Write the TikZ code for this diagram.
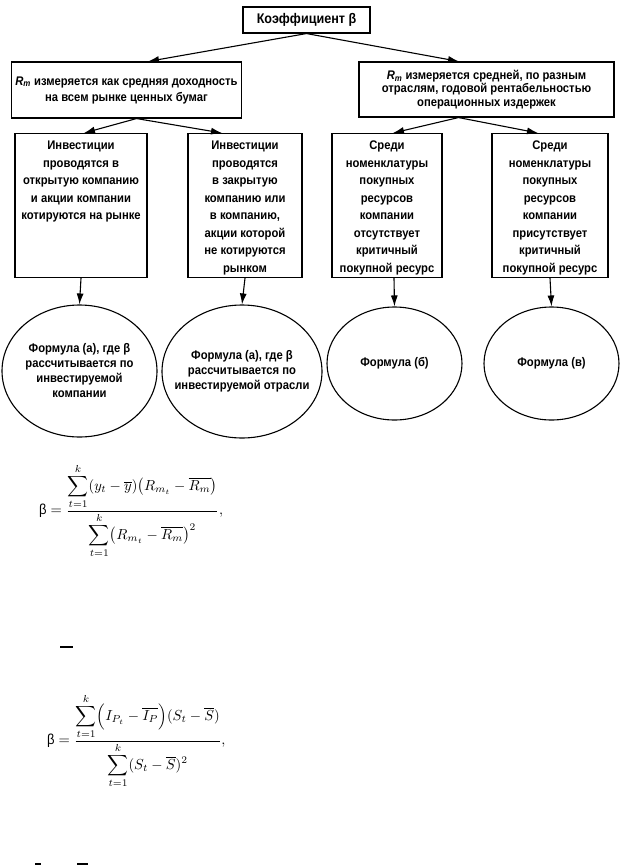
\documentclass[tikz,border=0pt]{standalone}
\usepackage{amsmath}
\usepackage{fontspec}
\newfontfamily\dgfont{Liberation Sans}[FakeStretch=0.9]
\usetikzlibrary{arrows.meta, shapes.geometric}

\newcommand{\Rm}{{\itshape R\textsubscript{m}}}
\newcommand{\topcol}[2]{\parbox[t][136pt][t]{#1}{\centering\strut #2\par}}
\newcommand{\sumk}{\displaystyle\sum_{t=1}^{k}}

\begin{document}
\begin{tikzpicture}[x=1pt, y=-1pt,
  cell/.style={draw, line width=1.1pt, inner sep=4pt,
    font=\dgfont\bfseries\fontsize{12.5}{17.5}\selectfont},
  oval/.style={draw, ellipse, line width=1.1pt, inner sep=0pt},
  ovtext/.style={align=center, font=\dgfont\bfseries\fontsize{12.5}{15}\selectfont},
  arr/.style={-{Latex[length=11pt,width=7pt]}, line width=1.1pt},
  frm/.style={anchor=west, scale=1.45}]
\useasboundingbox (0,0) rectangle (622,865);

% Top
\node[cell, font=\dgfont\bfseries\fontsize{14}{16}\selectfont,
  minimum width=127pt, minimum height=26pt] (top) at (306.5,20) {Коэффициент β};

% Second row
\node[cell, align=center, minimum width=221pt, minimum height=56pt,
  font=\dgfont\bfseries\fontsize{12.5}{16}\selectfont] (lm) at (126.5,90)
  {\Rm{} измеряется как средняя доходность\\ на всем рынке ценных бумаг};
\node[cell, align=center, minimum width=255pt, minimum height=55pt,
  font=\dgfont\bfseries\fontsize{12.5}{13.5}\selectfont] (rm) at (486.5,89.5)
  {\Rm{} измеряется средней, по разным\\ отраслям, годовой рентабельностью\\ операционных издержек};

\draw[arr] (top.south) -- ([xshift=21.5]lm.north);
\draw[arr] (top.south) -- ([xshift=-27.5]rm.north);

% Third row
\node[cell, anchor=north] (ia) at (81,133) {\topcol{124pt}{Инвестиции\\ проводятся в\\ открытую компанию\\ и акции компании\\ котируются на рынке}};
\node[cell, anchor=north] (ib) at (245,133) {\topcol{106pt}{Инвестиции\\ проводятся\\ в закрытую\\ компанию или\\ в компанию,\\ акции которой\\ не котируются\\ рынком}};
\node[cell, anchor=north] (ic) at (387,133) {\topcol{102pt}{Среди\\ номенклатуры\\ покупных\\ ресурсов\\ компании\\ отсутствует\\ критичный\\ покупной ресурс}};
\node[cell, anchor=north] (id) at (550,133) {\topcol{108pt}{Среди\\ номенклатуры\\ покупных\\ ресурсов\\ компании\\ присутствует\\ критичный\\ покупной ресурс}};

\draw[arr] ([xshift=10]lm.south) -- ([xshift=3]ia.north);
\draw[arr] ([xshift=10]lm.south) -- ([xshift=-23]ib.north);
\draw[arr] ([xshift=-28]rm.south) -- ([xshift=6]ic.north);
\draw[arr] ([xshift=-28]rm.south) -- ([xshift=-12]id.north);

% Formulas
\node[oval, minimum width=155pt, minimum height=132pt] (fa) at (79.5,371) {};
\node[ovtext] at (fa) {Формула (а), где β\\ рассчитывается по\\ инвестируемой\\ компании};
\node[oval, minimum width=160pt, minimum height=133pt] (fb) at (242,371.5) {};
\node[ovtext] at (fb) {Формула (а), где β\\ рассчитывается по\\ инвестируемой отрасли};
\node[oval, minimum width=135pt, minimum height=113pt] (fc) at (394.5,363.5) {};
\node[ovtext] at (fc) {Формула (б)};
\node[oval, minimum width=135pt, minimum height=113pt] (fd) at (551.5,363.5) {};
\node[ovtext] at (fd) {Формула (в)};

\draw[arr] (ia.south) -- (fa.north);
\draw[arr] (ib.south) -- (fb.north);
\draw[arr] ([xshift=7]ic.south) -- (fc.north);
\draw[arr] (id.south) -- (fd.north);

% Equations
\node[frm] (eqa) at (34,511) {$\mbox{\dgfont β}=\dfrac{\sumk(y_t-\overline{y})\bigl(R_{m_t}-\overline{R_m}\bigr)}{\sumk\bigl(R_{m_t}-\overline{R_m}\bigr)^2},$};
\node[frm] (eqb) at (42,741) {$\mbox{\dgfont β}=\dfrac{\sumk\Bigl(I_{P_t}-\overline{I_P}\Bigr)(S_t-\overline{S})}{\sumk(S_t-\overline{S})^2},$};

% Marks
\draw[line width=1.4pt] (60,647) -- (73,647);
\draw[line width=1.4pt] (35,864) -- (41,864);
\draw[line width=1.4pt] (77,864) -- (88,864);
\end{tikzpicture}
\end{document}
